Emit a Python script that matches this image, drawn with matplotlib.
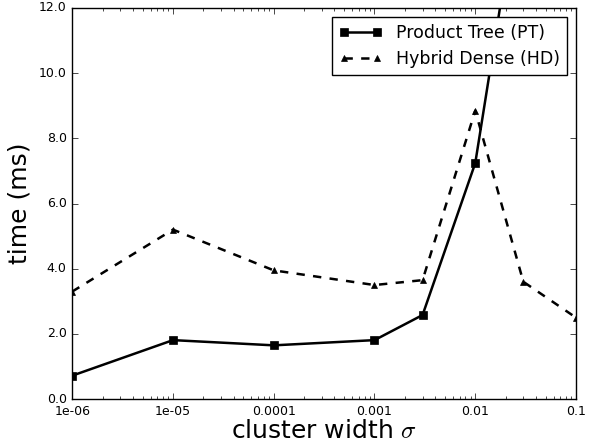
import matplotlib
matplotlib.use("Agg")
import matplotlib.pyplot as plt
from matplotlib.ticker import FixedLocator, FixedFormatter, FormatStrFormatter

plt.style.use("classic")

# cluster width sigma
sigma = [1e-6, 1e-5, 1e-4, 1e-3, 3e-3, 1e-2, 3e-2, 1e-1]
pt_ms = [0.72, 1.81, 1.65, 1.81, 2.58, 7.24, 16.5, 40.0]
hd_ms = [3.30, 5.20, 3.95, 3.50, 3.65, 8.85, 3.60, 2.50]
xticks = [1e-6, 1e-5, 1e-4, 1e-3, 1e-2, 1e-1]
xtick_labels = ["1e-06", "1e-05", "0.0001", "0.001", "0.01", "0.1"]

fig = plt.figure(figsize=(5.92, 4.42), dpi=100, facecolor="white")
ax = fig.add_axes([0.122, 0.097, 0.851, 0.885])

ax.plot(sigma, pt_ms, "k-s", lw=1.8, ms=5.5, label="Product Tree (PT)")
ax.plot(sigma, hd_ms, "k--^", lw=1.8, ms=5, label="Hybrid Dense (HD)")

ax.set_xscale("log")
ax.set_xlim(1e-6, 1e-1)
ax.set_ylim(0, 12)
ax.xaxis.set_major_locator(FixedLocator(xticks))
ax.xaxis.set_major_formatter(FixedFormatter(xtick_labels))
ax.yaxis.set_major_formatter(FormatStrFormatter("%.1f"))
ax.tick_params(labelsize=9)

ax.set_xlabel(r"cluster width $\sigma$", fontsize=18, labelpad=1)
ax.set_ylabel("time (ms)", fontsize=18)

ax.legend(loc="upper right", fontsize=12.5, numpoints=2, fancybox=False,
          handlelength=2.5, borderaxespad=0.5)

fig.savefig("out.png", dpi=100, facecolor="white")
